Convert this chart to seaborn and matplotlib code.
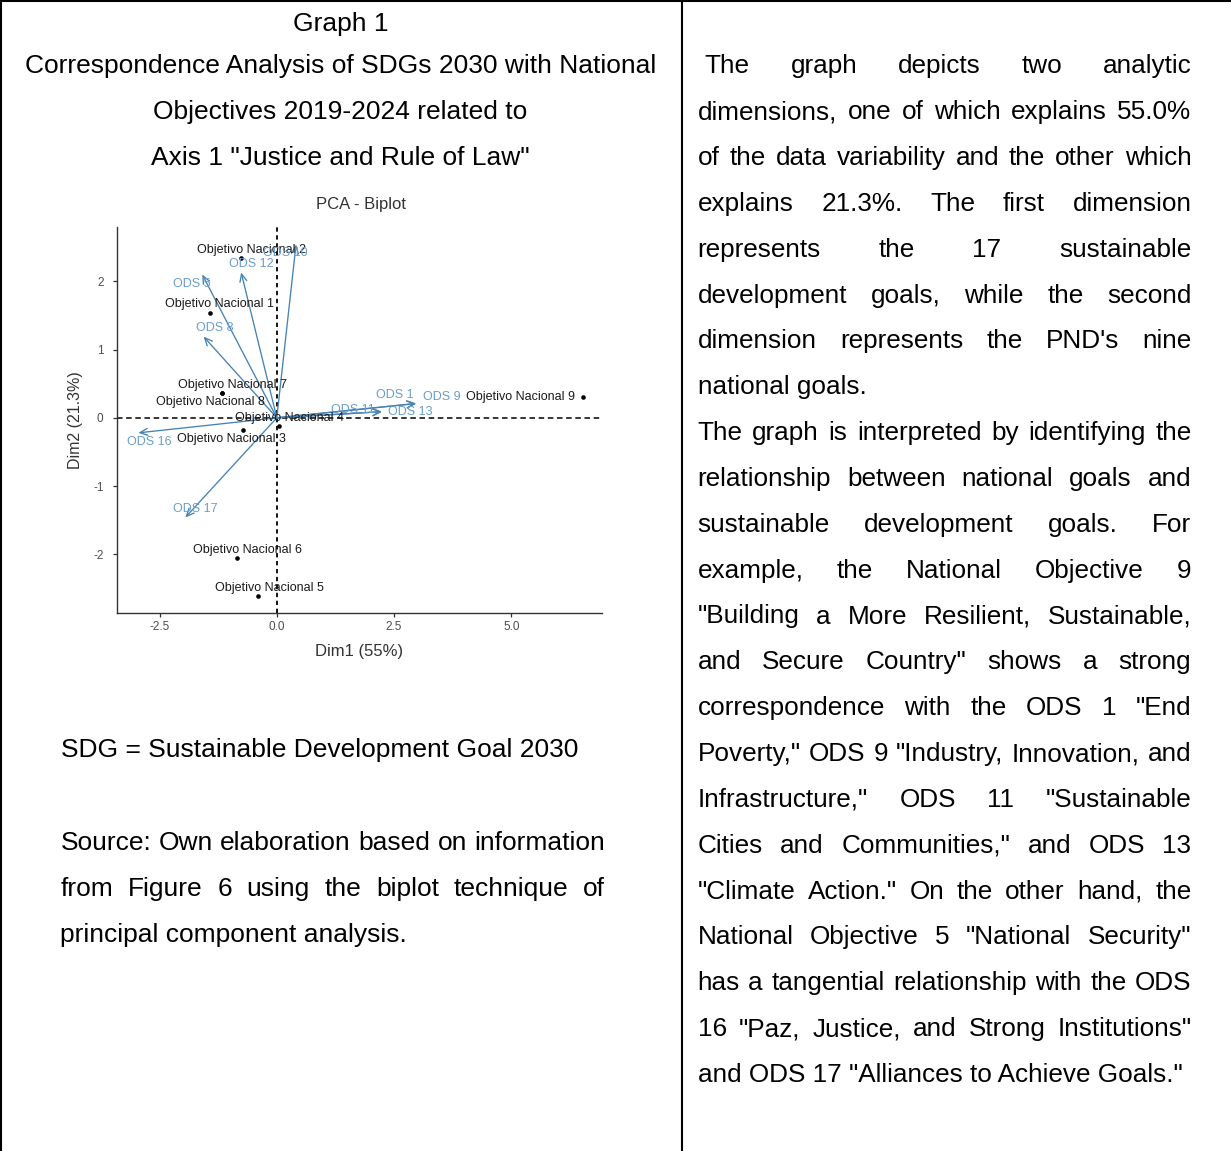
import matplotlib
matplotlib.use("Agg")
import matplotlib.pyplot as plt
import seaborn as sns
import pandas as pd
from matplotlib.lines import Line2D

# ---------------- data ----------------
ind_names = ["Objetivo Nacional 1", "Objetivo Nacional 2", "Objetivo Nacional 3",
             "Objetivo Nacional 4", "Objetivo Nacional 5", "Objetivo Nacional 6",
             "Objetivo Nacional 7", "Objetivo Nacional 8", "Objetivo Nacional 9"]
ind_dim1 = [-1.43, -0.77, -0.73, 0.04, -0.40, -0.84, -1.17, -1.17, 6.52]
ind_dim2 = [1.54, 2.34, -0.18, -0.12, -2.61, -2.06, 0.37, 0.37, 0.30]

var_names = ["ODS 1", "ODS 5", "ODS 8", "ODS 9", "ODS 10", "ODS 11",
             "ODS 12", "ODS 13", "ODS 16", "ODS 17"]
var_dim1 = [2.97, -1.59, -1.56, 2.97, 0.41, 2.24, -0.76, 2.24, -2.95, -1.95]
var_dim2 = [0.21, 2.10, 1.19, 0.21, 2.54, 0.09, 2.13, 0.09, -0.22, -1.46]

x_ticks = [-2.5, 0.0, 2.5, 5.0]
x_tick_labels = ["-2.5", "0.0", "2.5", "5.0"]
y_ticks = [-2, -1, 0, 1, 2]
y_tick_labels = ["-2", "-1", "0", "1", "2"]

plot_title = "PCA - Biplot"
x_label = "Dim1 (55%)"
y_label = "Dim2 (21.3%)"

heading_lines = ["Graph 1",
                 "Correspondence Analysis of SDGs 2030 with National",
                 "Objectives 2019-2024 related to",
                 'Axis 1 "Justice and Rule of Law"']
note_line = "SDG = Sustainable Development Goal 2030"
source_lines = ["Source: Own elaboration based on information",
                "from Figure 6 using the biplot technique of",
                "principal component analysis."]
right_lines = [
    "The graph depicts two analytic",
    "dimensions, one of which explains 55.0%",
    "of the data variability and the other which",
    "explains 21.3%. The first dimension",
    "represents the 17 sustainable",
    "development goals, while the second",
    "dimension represents the PND's nine",
    "national goals.",
    "The graph is interpreted by identifying the",
    "relationship between national goals and",
    "sustainable development goals. For",
    "example, the National Objective 9",
    '"Building a More Resilient, Sustainable,',
    'and Secure Country" shows a strong',
    'correspondence with the ODS 1 "End',
    'Poverty," ODS 9 "Industry, Innovation, and',
    'Infrastructure," ODS 11 "Sustainable',
    'Cities and Communities," and ODS 13',
    '"Climate Action." On the other hand, the',
    'National Objective 5 "National Security"',
    "has a tangential relationship with the ODS",
    '16 "Paz, Justice, and Strong Institutions"',
    'and ODS 17 "Alliances to Achieve Goals."',
]
right_paragraph_ends = [7, 22]

# label placement offsets (layout only)
label_offsets = {
    "Objetivo Nacional 1": (0.198, 0.122), "Objetivo Nacional 2": (0.221, 0.122),
    "Objetivo Nacional 3": (-0.242, -0.132), "Objetivo Nacional 4": (0.220, 0.112),
    "Objetivo Nacional 5": (0.235, 0.117), "Objetivo Nacional 6": (0.220, 0.118),
    "Objetivo Nacional 7": (0.220, 0.117), "Objetivo Nacional 8": (-0.242, -0.132),
    "Objetivo Nacional 9": (-1.328, 0.0),
    "ODS 1": (-0.462, 0.122), "ODS 5": (-0.221, -0.137), "ODS 8": (0.235, 0.122),
    "ODS 9": (0.550, 0.092), "ODS 10": (-0.228, -0.122), "ODS 11": (-0.624, 0.019),
    "ODS 12": (0.220, 0.122), "ODS 13": (0.609, -0.010), "ODS 16": (0.235, -0.136),
    "ODS 17": (0.206, 0.118),
}

df_ind = pd.DataFrame({"name": ind_names, "Dim1": ind_dim1, "Dim2": ind_dim2})
df_var = pd.DataFrame({"name": var_names, "Dim1": var_dim1, "Dim2": var_dim2})

# ---------------- style ----------------
sns.set_theme(style="ticks")
plt.rcParams["font.family"] = ["Liberation Sans", "DejaVu Sans"]

W, H = 1231, 1151
fig = plt.figure(figsize=(W / 100, H / 100), dpi=100)
fig.patch.set_facecolor("white")


def fx(px):
    return px / W


def fy(py):
    return 1 - py / H


# ---------------- biplot ----------------
L, R, T, B = 116.8, 602.0, 226.7, 612.7
ax = fig.add_axes([fx(L), fy(B), (R - L) / W, (B - T) / H])
ax.set_facecolor("white")

ax.axhline(0, color="black", lw=1.1, ls=(0, (3.6, 2.4)), zorder=1)
ax.axvline(0, color="black", lw=1.3, ls=(0, (2.4, 2.0)), zorder=1)

arrow_col = "#4682B4"
for _, r in df_var.iterrows():
    ax.annotate("", xy=(r.Dim1, r.Dim2), xytext=(0, 0),
                arrowprops=dict(arrowstyle="->,head_length=0.55,head_width=0.25",
                                color=arrow_col, lw=0.95, shrinkA=0, shrinkB=0,
                                mutation_scale=10), zorder=2)

sns.scatterplot(data=df_ind, x="Dim1", y="Dim2", ax=ax, color="black", s=11,
                linewidth=0, zorder=3, legend=False)

for _, r in df_ind.iterrows():
    dx, dy = label_offsets[r["name"]]
    ax.text(r.Dim1 + dx, r.Dim2 + dy, r["name"], fontsize=9, color="#1a1a1a",
            ha="center", va="center", zorder=4)
for _, r in df_var.iterrows():
    dx, dy = label_offsets[r["name"]]
    ax.text(r.Dim1 + dx, r.Dim2 + dy, r["name"], fontsize=9, color="#6a9dcc",
            ha="center", va="center", zorder=4)

ax.set_xlim(-3.41, 6.93)
ax.set_ylim(-2.855, 2.80)
ax.set_xticks(x_ticks)
ax.set_xticklabels(x_tick_labels)
ax.set_yticks(y_ticks)
ax.set_yticklabels(y_tick_labels)
sns.despine(ax=ax)
for s in ["left", "bottom"]:
    ax.spines[s].set_color("#333333")
    ax.spines[s].set_linewidth(1.0)
ax.tick_params(axis="both", length=3, width=0.9, color="#333333",
               labelsize=8.5, labelcolor="#4d4d4d")
ax.tick_params(axis="x", pad=3.0)
ax.tick_params(axis="y", pad=6.5)

ax.set_xlabel(x_label, fontsize=12, color="#333333")
ax.set_ylabel(y_label, fontsize=11.5, color="#333333")
ax.xaxis.set_label_coords(0.5, -0.101)
ax.xaxis.label.set_va("center")
ax.yaxis.set_label_coords(-0.0851, 0.5)
ax.yaxis.label.set_va("center")
ax.text(0.504, 1 + (T - 204.3) / (B - T), plot_title, transform=ax.transAxes,
        ha="center", va="center", fontsize=12, color="#333333")

# ---------------- document text ----------------
renderer = fig.canvas.get_renderer()


def text_width(s, size):
    t = fig.text(0, 0, s, fontsize=size)
    w = t.get_window_extent(renderer=renderer).width
    t.remove()
    return w


def put(x, yb, s, size, ha="left"):
    fig.text(fx(x), fy(yb), s, fontsize=size, ha=ha, va="baseline", color="black")


def justified(line, x0, x1, yb, size):
    words = line.split()
    widths = [text_width(w, size) for w in words]
    gap = (x1 - x0 - sum(widths)) / (len(words) - 1)
    x = x0
    for w, wd in zip(words, widths):
        put(x, yb, w, size)
        x += wd + gap


LS = 45.85
base0 = 73.3
LEFT_SIZE = 19.0
RIGHT_SIZE = 18.8

# left heading (centered)
for i, s in enumerate(heading_lines):
    put(340.5, base0 + (i - 1) * LS + (4.0 if i == 0 else 0), s, LEFT_SIZE, ha="center")

# left notes
put(61, 757.5, note_line, LEFT_SIZE)
src_base = [850, 896, 942]
justified(source_lines[0], 60.5, 605, src_base[0], LEFT_SIZE)
justified(source_lines[1], 60.5, 605, src_base[1], LEFT_SIZE)
put(60.5, src_base[2], source_lines[2], LEFT_SIZE)

# right column (justified)
RX0, RX1 = 697.6, 1191.4
space_w = text_width("a a", RIGHT_SIZE) - text_width("aa", RIGHT_SIZE)
for i, s in enumerate(right_lines):
    yb = base0 + i * LS
    x0 = RX0 + (space_w if i == 0 else 0)
    if i in right_paragraph_ends:
        put(x0, yb, s, RIGHT_SIZE)
    else:
        justified(s, x0, RX1, yb, RIGHT_SIZE)

# ---------------- table borders ----------------
bw = 1.5
fig.add_artist(Line2D([0, 1], [fy(1), fy(1)], transform=fig.transFigure, color="black", lw=bw))
fig.add_artist(Line2D([fx(1), fx(1)], [0, 1], transform=fig.transFigure, color="black", lw=bw))
fig.add_artist(Line2D([fx(682), fx(682)], [0, 1], transform=fig.transFigure, color="black", lw=bw))

fig.savefig("out.png", dpi=100, facecolor="white")
